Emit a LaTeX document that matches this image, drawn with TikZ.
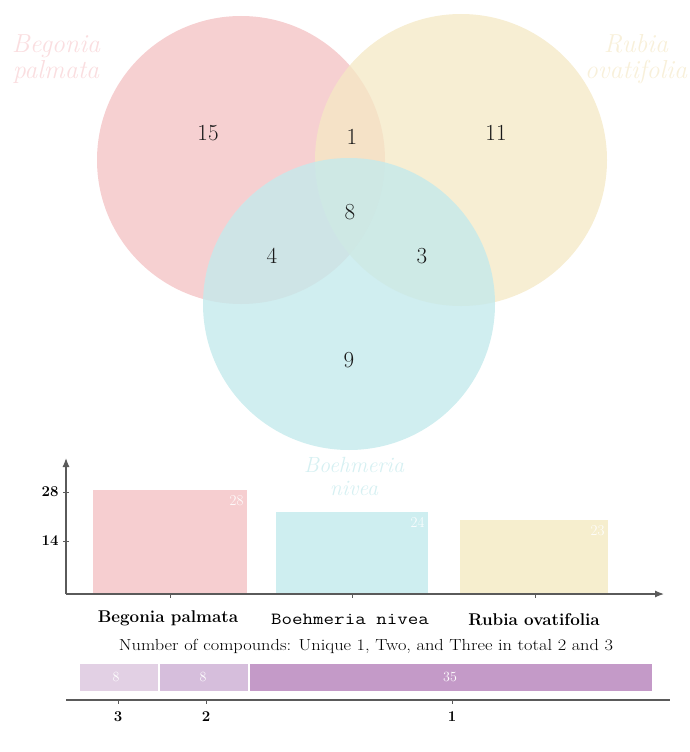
\documentclass[tikz,border=0pt]{standalone}
\usetikzlibrary{arrows.meta}
\definecolor{pinkc}{RGB}{244,196,198}
\definecolor{yelc}{RGB}{244,232,196}
\definecolor{cyac}{RGB}{196,234,236}
\definecolor{pinkt}{RGB}{250,222,224}
\definecolor{yelt}{RGB}{248,240,218}
\definecolor{cyat}{RGB}{214,240,242}
\definecolor{barp}{RGB}{246,206,208}
\definecolor{barc}{RGB}{206,238,240}
\definecolor{bary}{RGB}{246,238,206}
\definecolor{s1}{RGB}{226,208,228}
\definecolor{s2}{RGB}{214,190,220}
\definecolor{s3}{RGB}{196,154,200}
\definecolor{axc}{RGB}{90,90,90}
\tikzset{
  vnum/.style={font=\fontsize{23}{26}\selectfont, text=black!90},
  vlab/.style={font=\fontsize{26}{26}\selectfont\itshape, align=center, inner sep=0pt},
  barnum/.style={font=\fontsize{15}{16}\selectfont, text=white, anchor=north east},
  catlab/.style={font=\fontsize{17}{18}\selectfont\bfseries},
  axis/.style={draw=axc, line width=1.2pt, -{Latex[length=9pt,width=7pt]}},
  tick/.style={draw=axc, line width=0.8pt},
  segnum/.style={font=\fontsize{14}{16}\selectfont, text=white},
  ticklab/.style={font=\fontsize{15}{16}\selectfont\bfseries},
}
\begin{document}
\begin{tikzpicture}[x=1pt,y=-1pt]
\useasboundingbox (0,0) rectangle (689,752);
% Venn circles
\fill[pinkc, fill opacity=0.8] (241,160) circle (144);
\fill[yelc, fill opacity=0.75] (461,160) circle (146);
\fill[cyac, fill opacity=0.8] (349,304) circle (146);
% set labels
\node[vlab, text=pinkt] (lbp) at (56,59) {Begonia\\palmata};
\node[vlab, text=yelt] (lro) at (636,59) {Rubia\\ovatifolia};
\node[vlab, text=cyat, font=\fontsize{22}{23}\selectfont\itshape] (lbn) at (354,476) {Boehmeria\\nivea};
% numbers
\node[vnum] (n15) at (208,133) {15};
\node[vnum] (n1) at (352,137) {1};
\node[vnum] (n11) at (496,133) {11};
\node[vnum] (n8) at (350,212) {8};
\node[vnum] (n4) at (272,256) {4};
\node[vnum] (n3) at (422,256) {3};
\node[vnum] (n9) at (349,360) {9};
% bar chart
\coordinate (o) at (66,594);
\coordinate (ytop) at (66,458);
\coordinate (xend) at (664,594);
\fill[barp] (93,490) rectangle (247,594);
\fill[barc] (276,512) rectangle (428,594);
\fill[bary] (460,520) rectangle (608,594);
\node[barnum] (b1) at (247,492) {28};
\node[barnum] (b2) at (428,514) {24};
\node[barnum] (b3) at (608,522) {23};
\draw[axis] (o) -- (ytop);
\draw[axis] (o) -- (xend);
\draw[tick] (63,492) -- (69,492);
\draw[tick] (63,541) -- (69,541);
\node[ticklab, anchor=east] (t28) at (62,492) {28};
\node[ticklab, anchor=east] (t14) at (62,541) {14};
\draw[tick] (170,594) -- (170,598);
\draw[tick] (352,594) -- (352,598);
\draw[tick] (535,594) -- (535,598);
\node[catlab] (c1) at (168,618) {Begonia palmata};
\node[font=\fontsize{17}{18}\selectfont\ttfamily] (c2) at (350,619) {\scalebox{1.2}[1]{Boehmeria nivea}};
\node[catlab] (c3) at (534,620) {Rubia ovatifolia};
% stacked bar
\node[font=\fontsize{16}{18}\selectfont] (ttl) at (366,646) {\scalebox{1.15}[1]{Number of compounds: Unique 1, Two, and Three in total 2 and 3}};
\fill[s1] (80,664) rectangle (158,691);
\fill[s2] (160,664) rectangle (248,691);
\fill[s3] (250,664) rectangle (652,691);
\node[segnum] (g1) at (116,677) {8};
\node[segnum] (g2) at (203,677) {8};
\node[segnum] (g3) at (450,677) {35};
\draw[draw=axc, line width=1.2pt] (66,700) -- (670,700);
\draw[tick] (118,700) -- (118,704);
\draw[tick] (206,700) -- (206,704);
\draw[tick] (452,700) -- (452,704);
\node[ticklab] (l3) at (118,717) {3};
\node[ticklab] (l2) at (206,717) {2};
\node[ticklab] (l1) at (452,717) {1};
\end{tikzpicture}
\end{document}
